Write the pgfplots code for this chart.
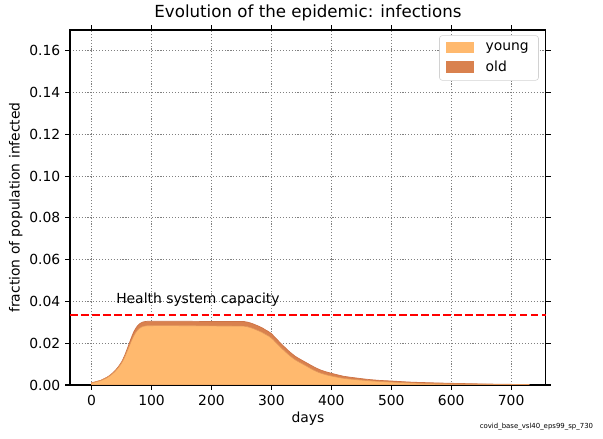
\documentclass[border=0pt]{standalone}
\usepackage{fontspec}
\setmainfont{DejaVu Sans}
\usepackage{pgfplots}
\pgfplotsset{compat=1.18}
\definecolor{young}{RGB}{255,185,110}
\definecolor{youngedge}{RGB}{226,150,90}
\definecolor{old}{RGB}{217,129,78}
\definecolor{oldedge}{RGB}{205,115,70}

\pgfplotstableread{
day young old
0 0.0010 0.0001
5 0.0013 0.0001
10 0.0017 0.0001
15 0.0021 0.0001
20 0.0027 0.0002
25 0.0034 0.0002
30 0.0043 0.0002
35 0.0054 0.0003
40 0.0068 0.0003
45 0.0085 0.0004
50 0.0105 0.0005
55 0.0133 0.0007
60 0.0167 0.0010
65 0.0202 0.0014
70 0.0234 0.0018
75 0.0257 0.0020
80 0.0272 0.0021
85 0.0280 0.0021
90 0.0283 0.0021
100 0.0284 0.0021
150 0.0284 0.0021
200 0.0283 0.0021
250 0.0282 0.0022
255 0.0281 0.0022
260 0.0279 0.0022
265 0.0275 0.0022
270 0.0270 0.0022
275 0.0264 0.0022
280 0.0258 0.0022
285 0.0251 0.0022
290 0.0243 0.0021
295 0.0235 0.0021
300 0.0225 0.0021
305 0.0211 0.0020
310 0.0196 0.0020
320 0.0168 0.0019
330 0.0142 0.0018
340 0.0120 0.0017
350 0.0104 0.0016
360 0.0088 0.0016
370 0.0072 0.0016
380 0.0059 0.0015
390 0.0050 0.0014
400 0.0043 0.0013
420 0.0032 0.0010
440 0.0026 0.0008
460 0.0021 0.0006
480 0.0017 0.0005
500 0.0014 0.0005
530 0.0010 0.0004
560 0.0007 0.0004
600 0.0005 0.0003
650 0.0003 0.0002
700 0.0002 0.0001
730 0.0001 0.0001
}\infections

\begin{document}
\begin{tikzpicture}
\begin{axis}[
    at={(0,0)}, anchor=south west,
    scale only axis,
    width=342.7pt,
    height=255.6pt,
    xmin=-36, xmax=758,
    ymin=0, ymax=0.17,
    xtick={0,100,...,700},
    ytick={0,0.02,...,0.16},
    yticklabel style={/pgf/number format/.cd, fixed, fixed zerofill, precision=2},
    /pgf/number format/assume math mode=true,
    scaled y ticks=false,
    tick align=outside,
    major tick length=3.5pt,
    tick style={black, line width=0.8pt},
    axis line style={line width=0.8pt},
    grid=major,
    grid style={gray, line width=0.6pt, dash pattern=on 0.8pt off 1.3pt},
    ticklabel style={font=\fontsize{10}{12}\selectfont},
    xlabel={days},
    ylabel={fraction of population infected},
    label style={font=\fontsize{10}{12}\selectfont},
    xlabel style={yshift=2pt},
    ylabel style={yshift=-2pt},
    title={Evolution of the epidemic: infections},
    title style={font=\fontsize{12}{14}\selectfont, yshift=-3pt},
    stack plots=y,
    area legend,
    legend cell align=left,
    legend style={at={(0.985,0.985)}, anchor=north east, draw=gray!35,
        rounded corners=2pt, font=\fontsize{10}{12}\selectfont,
        row sep=2pt, inner xsep=5pt, inner ysep=3pt},
    legend image code/.code={\fill[#1, draw=none, sharp corners] (0pt,-4pt) rectangle (20pt,4pt); \path (26pt,0pt);},
]
\addplot[fill=young, draw=youngedge, line width=0.5pt, smooth] table[x=day, y=young] {\infections} \closedcycle;
\addlegendentry{young}
\addplot[fill=old, draw=oldedge, line width=0.5pt, smooth] table[x=day, y=old] {\infections} \closedcycle;
\addlegendentry{old}
\end{axis}
\begin{axis}[
    at={(0,0)}, anchor=south west,
    scale only axis,
    width=342.7pt,
    height=255.6pt,
    xmin=-36, xmax=758,
    ymin=0, ymax=0.17,
    axis lines=none,
]
\addplot[red, line width=1.5pt, dash pattern=on 5.5pt off 2.4pt] coordinates {(-36,0.0337) (758,0.0337)};
\node[anchor=west, font=\fontsize{10}{12}\selectfont] at (axis cs:33,0.0410) {Health system capacity};
\end{axis}
\node[anchor=east, font=\fontsize{5}{6}\selectfont] at (380.2pt,-30.2pt) {covid\_base\_vsl40\_eps99\_sp\_730};
\path[use as bounding box] (-50.4pt,-38.2pt) rectangle (383.8pt,277.2pt);
\end{tikzpicture}
\end{document}
